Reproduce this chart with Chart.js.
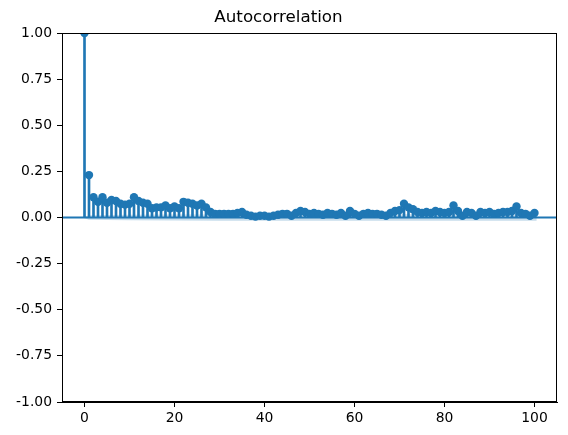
<!DOCTYPE HTML>
<html>
  <head>
    <script src="https://cdn.jsdelivr.net/npm/chart.js"></script>
    <style>
      body { margin: 0; background: #fff; }
    </style>
  </head>
  <body>
    <canvas id="acf-chart" width="568" height="435"></canvas>

    <script>
      // autocorrelation per lag (lag 0 .. 100)
      const acf_values = [
        1.0, 0.23, 0.11, 0.085, 0.11, 0.08, 0.095, 0.09, 0.075, 0.07,
        0.075, 0.11, 0.09, 0.08, 0.075, 0.05, 0.055, 0.055, 0.065, 0.05,
        0.06, 0.05, 0.085, 0.08, 0.075, 0.065, 0.075, 0.055, 0.03, 0.02,
        0.02, 0.02, 0.02, 0.02, 0.025, 0.03, 0.015, 0.01, 0.005, 0.01,
        0.01, 0.005, 0.01, 0.015, 0.02, 0.02, 0.01, 0.025, 0.035, 0.03,
        0.02, 0.025, 0.02, 0.015, 0.025, 0.02, 0.015, 0.025, 0.01, 0.035,
        0.02, 0.01, 0.02, 0.025, 0.02, 0.02, 0.015, 0.01, 0.025, 0.035,
        0.04, 0.075, 0.055, 0.045, 0.03, 0.025, 0.03, 0.025, 0.035, 0.03,
        0.025, 0.03, 0.065, 0.035, 0.01, 0.03, 0.025, 0.01, 0.03, 0.025,
        0.03, 0.02, 0.025, 0.03, 0.03, 0.035, 0.06, 0.025, 0.02, 0.01,
        0.025
      ];
      const lags = acf_values.map((v, i) => i);

      // confidence band half-width (centered on zero)
      const band_lags = [-0.5, 1, 2, 5, 10, 20, 30, 50, 70, 100.5];
      const band_width = [0, 0.012, 0.0125, 0.014, 0.015, 0.016, 0.017, 0.017, 0.0175, 0.018];

      const x_ticks = [0, 20, 40, 60, 80, 100];
      const y_ticks = [-1, -0.75, -0.5, -0.25, 0, 0.25, 0.5, 0.75, 1];

      const blue = '#1f77b4';
      const font = { family: 'DejaVu Sans', size: 13.9 };

      const frame = {
        id: 'frame',
        afterDatasetsDraw(chart) {
          const a = chart.chartArea;
          const ctx = chart.ctx;
          ctx.save();
          ctx.strokeStyle = '#000';
          ctx.lineWidth = 1;
          ctx.strokeRect(Math.round(a.left) + 0.5, Math.round(a.top) + 0.5,
                         Math.round(a.right - a.left) - 1, Math.round(a.bottom - a.top) - 1);
          ctx.restore();
        }
      };

      const acf_context = document.getElementById('acf-chart');
      acf_chart = new Chart(acf_context, {
        type: 'scatter',
        data: {
          datasets: [
            {
              type: 'line',
              data: band_lags.map((x, i) => ({ x: x, y: band_width[i] })),
              borderWidth: 0,
              pointRadius: 0,
              backgroundColor: 'rgba(31,119,180,0.25)',
              fill: '+1',
              order: 5
            },
            {
              type: 'line',
              data: band_lags.map((x, i) => ({ x: x, y: -band_width[i] })),
              borderWidth: 0,
              pointRadius: 0,
              fill: false,
              order: 5
            },
            {
              type: 'bar',
              data: lags.map(i => ({ x: i, y: acf_values[i] })),
              backgroundColor: blue,
              barThickness: 2,
              order: 3
            },
            {
              type: 'line',
              data: [{ x: -5, y: 0 }, { x: 105, y: 0 }],
              borderColor: blue,
              borderWidth: 2,
              pointRadius: 0,
              order: 2
            },
            {
              type: 'scatter',
              data: lags.map(i => ({ x: i, y: acf_values[i] })),
              backgroundColor: blue,
              borderWidth: 0,
              pointRadius: 4.2,
              order: 1
            }
          ]
        },
        options: {
          responsive: false,
          animation: false,
          devicePixelRatio: 1,
          layout: { padding: { left: 0, right: 11, top: 0, bottom: 0 } },
          plugins: {
            legend: { display: false },
            tooltip: { enabled: false },
            title: {
              display: true,
              text: 'Autocorrelation',
              color: '#000',
              font: { family: 'DejaVu Sans', size: 16.7, weight: 'normal' },
              padding: { top: 8, bottom: 5 }
            }
          },
          scales: {
            x: {
              type: 'linear',
              min: -5,
              max: 105,
              offset: false,
              afterBuildTicks: s => { s.ticks = x_ticks.map(v => ({ value: v })); },
              afterFit: s => { s.height = 33; },
              ticks: { color: '#000', font: font, padding: 3, maxRotation: 0 },
              grid: { offset: false, drawOnChartArea: false, drawTicks: true, tickLength: 5, color: '#000' },
              border: { display: true, color: '#000' }
            },
            y: {
              type: 'linear',
              min: -1,
              max: 1,
              afterBuildTicks: s => { s.ticks = y_ticks.map(v => ({ value: v })); },
              afterFit: s => { s.width = 62; },
              ticks: { color: '#000', font: font, padding: 5, callback: v => v.toFixed(2) },
              grid: { drawOnChartArea: false, drawTicks: true, tickLength: 5, color: '#000' },
              border: { display: true, color: '#000' }
            }
          }
        },
        plugins: [frame]
      });
    </script>
  </body>
</html>
